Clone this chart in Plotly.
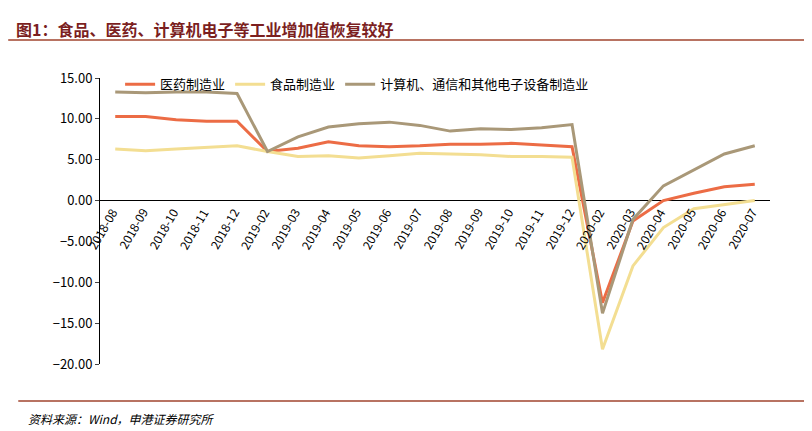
import plotly.graph_objects as go

categories = ["2018-08","2018-09","2018-10","2018-11","2018-12",
              "2019-02","2019-03","2019-04","2019-05","2019-06","2019-07","2019-08","2019-09","2019-10","2019-11","2019-12",
              "2020-02","2020-03","2020-04","2020-05","2020-06","2020-07"]
pharma = [10.3,10.3,9.9,9.7,9.7, 6.0,6.4,7.2,6.7,6.6,6.7,6.9,6.9,7.0,6.8,6.6, -12.5,-2.5,0.0,0.9,1.7,2.0]
food = [6.3,6.1,6.3,6.5,6.7, 6.0,5.4,5.5,5.2,5.5,5.8,5.7,5.6,5.4,5.4,5.3, -18.2,-8.0,-3.3,-1.0,-0.5,0.0]
electronics = [13.3,13.2,13.3,13.3,13.1, 6.0,7.8,9.0,9.4,9.6,9.2,8.5,8.8,8.7,8.9,9.3, -13.8,-2.3,1.8,3.7,5.7,6.7]
yticks = [15,10,5,0,-5,-10,-15,-20]

fig = go.Figure()
for name, vals, col in [("医药制造业", pharma, "#EC6C45"),
                        ("食品制造业", food, "#F3DE92"),
                        ("计算机、通信和其他电子设备制造业", electronics, "#A99878")]:
    fig.add_trace(go.Scatter(x=categories, y=vals, name=name, mode="lines",
                             line=dict(color=col, width=3)))

for c in categories:
    fig.add_annotation(x=c, y=0, xref="x", yref="y", text=c, showarrow=False,
                       textangle=-60, xanchor="right", yanchor="top", xshift=8, yshift=-2,
                       font=dict(size=12, color="#000"))

fig.add_annotation(x=-0.128, y=1.22, xref="paper", yref="paper", xanchor="left", yanchor="top",
                   text="<b>图1：食品、医药、计算机电子等工业增加值恢复较好</b>", showarrow=False,
                   font=dict(size=16, color="#7B1F1F"))
fig.add_annotation(x=-0.11, y=-0.155, xref="paper", yref="paper", xanchor="left", yanchor="top",
                   text="<i>资料来源：Wind，申港证券研究所</i>", showarrow=False,
                   font=dict(size=12, color="#000"))
fig.add_shape(type="line", xref="paper", yref="paper", x0=-0.137, x1=1.075, y0=1.133, y1=1.133,
              line=dict(color="#A0452E", width=1.5))
fig.add_shape(type="line", xref="paper", yref="paper", x0=-0.122, x1=1.075, y0=-0.129, y1=-0.129,
              line=dict(color="#A0452E", width=1.5))

fig.update_layout(
    width=812, height=431, paper_bgcolor="white", plot_bgcolor="white",
    margin=dict(l=92, r=50, t=70, b=75),
    font=dict(family="Noto Sans CJK SC", size=13, color="#000"),
    legend=dict(orientation="h", x=0.03, y=1.03, xanchor="left", yanchor="top",
                bgcolor="rgba(0,0,0,0)", font=dict(size=13)),
    xaxis=dict(type="category", showticklabels=False, showgrid=False, showline=False,
               range=[-0.5, 21.5]),
    yaxis=dict(range=[-20, 15], tickvals=yticks, tickformat=".2f", showgrid=False,
               showline=True, linecolor="#000", ticks="outside", ticklen=4,
               zeroline=True, zerolinecolor="#000", zerolinewidth=1, tickfont=dict(size=13)),
)
fig.write_html("out.html")
